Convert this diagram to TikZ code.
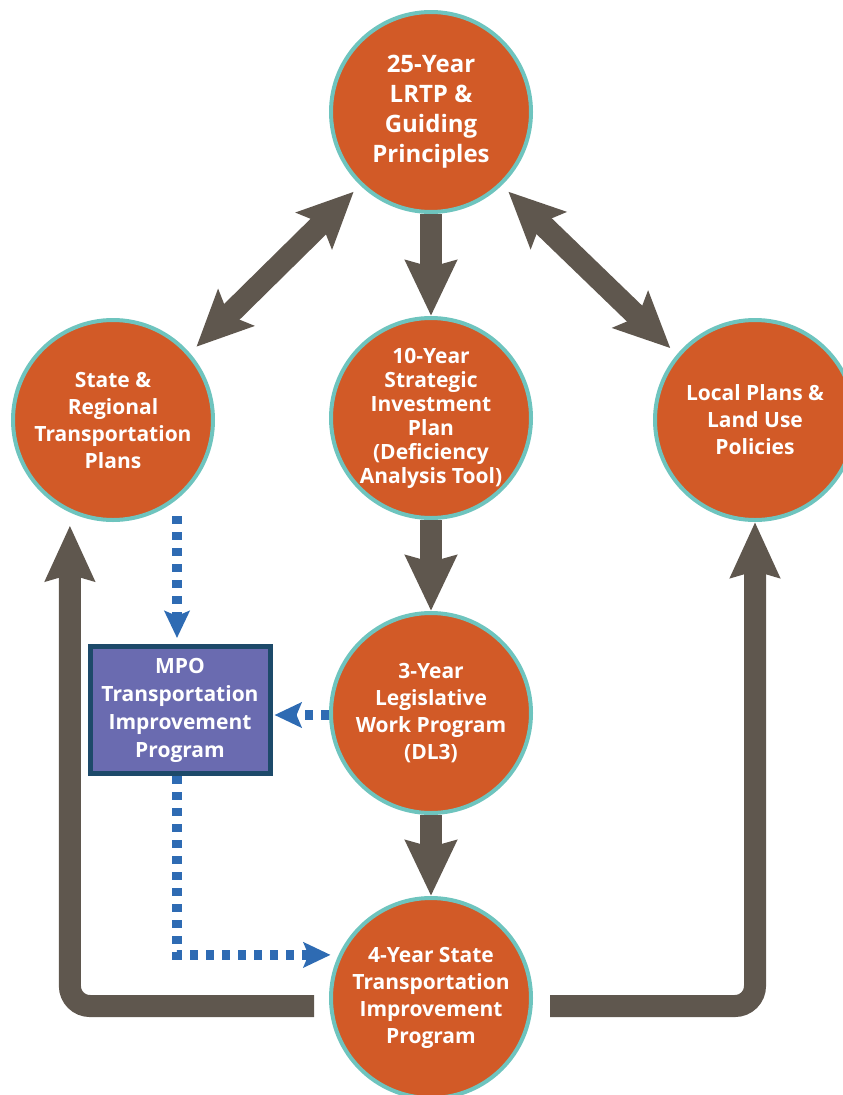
\documentclass[tikz,border=0pt]{standalone}
\usepackage{fontspec}
\setmainfont{Open Sans}
\usetikzlibrary{arrows.meta,calc}
\definecolor{orng}{HTML}{D25A27}
\definecolor{ringc}{HTML}{6EC4BE}
\definecolor{arrg}{HTML}{5F574E}
\definecolor{dashb}{HTML}{2E6BB3}
\definecolor{mpof}{HTML}{6A6BB0}
\definecolor{mpob}{HTML}{1D4A6A}
\begin{document}
\begin{tikzpicture}[x=1pt,y=-1pt,
  plan/.style={circle, fill=orng, draw=ringc, line width=4pt, minimum size=200pt, inner sep=0pt,
    align=center, text=white, font=\bfseries\fontsize{21}{27}\selectfont},
  mpobox/.style={rectangle, fill=mpof, draw=mpob, line width=5pt, minimum width=180pt, minimum height=127pt,
    inner sep=0pt, align=center, text=white, font=\bfseries\fontsize{21}{28}\selectfont},
  bigarrow/.style={draw=arrg, line width=22pt, -{Stealth[width=50pt,length=55pt,inset=6pt]}},
  dblarrow/.style={draw=arrg, line width=22pt, {Stealth[width=50pt,length=55pt,inset=10pt]}-{Stealth[width=50pt,length=55pt,inset=10pt]}},
  looparrow/.style={draw=arrg, line width=22pt, rounded corners=20pt, -{Stealth[width=48pt,length=55pt,inset=6pt]}},
  dsharrow/.style={draw=dashb, line width=10pt, dash pattern=on 8pt off 8pt, -{Stealth[width=25pt,length=27pt,inset=5pt]}}
]
\useasboundingbox (0,0) rectangle (843,1095);

% nodes
\node[plan, font=\bfseries\fontsize{24}{30}\selectfont] (top) at (431,112) {25-Year\\LRTP \&\\Guiding\\Principles};
\node[plan] (srp) at (113,420) {State \&\\Regional\\Transportation\\Plans};
\node[plan, font=\bfseries\fontsize{21}{24}\selectfont] (sip) at (431,418) {10-Year\\Strategic\\Investment\\Plan\\(Deficiency\\Analysis Tool)};
\node[plan] (lp) at (755,420) {Local Plans \&\\Land Use\\Policies};
\node[plan] (lwp) at (431,713) {3-Year\\Legislative\\Work Program\\(DL3)};
\node[plan] (stip) at (431,998) {4-Year State\\Transportation\\Improvement\\Program};
\node[mpobox] (mpo) at (180,710) {MPO\\Transportation\\Improvement\\Program};

% gray arrows
\draw[bigarrow] (top.south) -- (sip.north);
\draw[bigarrow] (sip.south) -- (lwp.north);
\draw[bigarrow] (lwp.south) -- (stip.north);
\draw[dblarrow, shorten <=9pt, shorten >=9pt] (srp.41) -- (top.226);
\draw[dblarrow, shorten <=9pt, shorten >=9pt] (top.314) -- (lp.140);
\draw[looparrow, shorten >=13pt] ($(stip.west)+(-15,8)$) -| (srp.245);
\draw[looparrow] ($(stip.east)+(17,8)$) -| (lp.south);

% blue dashed arrows
\draw[dsharrow, shorten >=6pt] ($(mpo.north |- srp.south)+(-3,-6)$) -- ($(mpo.north)+(-3,0)$);
\draw[dsharrow, shorten >=2pt] ($(lwp.west)+(0,2)$) -- ($(lwp.west -| mpo.east)+(0,2)$);
\draw[dsharrow, shorten >=8pt] ($(mpo.south)+(-3,0)$) |- (stip.155);
\end{tikzpicture}
\end{document}
